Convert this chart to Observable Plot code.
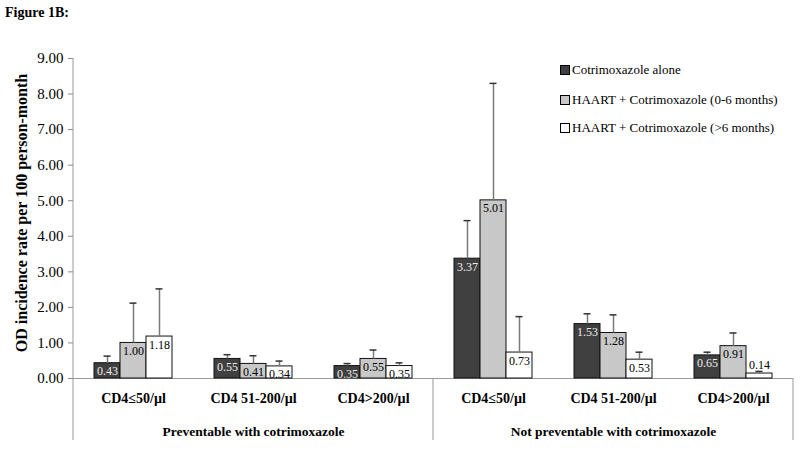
<!DOCTYPE html>
<html><head><meta charset="utf-8">
<script src="https://cdn.jsdelivr.net/npm/d3@7"></script>
<script src="https://cdn.jsdelivr.net/npm/@observablehq/plot@0.6"></script>
<style>
body{margin:0;background:#fff;font-family:"Liberation Serif","Times New Roman",serif;}
#wrap{position:relative;width:800px;height:458px;overflow:hidden;}
#chart{position:absolute;left:0;top:0;}
#title{position:absolute;left:5px;top:5px;font-weight:bold;font-size:14px;}
#legend{position:absolute;left:560px;top:62px;font-size:13px;}
.lrow{position:absolute;left:0;white-space:nowrap;height:16px;line-height:16px;}
.sw{display:inline-block;width:10px;height:10px;border:1px solid #000;margin-right:2px;vertical-align:-1px;box-sizing:border-box;}
</style></head><body>
<div id="wrap"><div id="chart"></div><div id="title">Figure 1B:</div><div id="legend"></div></div>
<script>
const sections = ["Preventable with cotrimoxazole", "Not preventable with cotrimoxazole"];
const categories = ["CD4≤50/µl", "CD4 51-200/µl", "CD4>200/µl"];
const series = ["Cotrimoxazole alone", "HAART + Cotrimoxazole (0-6 months)", "HAART + Cotrimoxazole (>6 months)"];
const seriesColors = ["#404040", "#c8c8c8", "#ffffff"];
// values by series, ordered: section 1 (3 categories), section 2 (3 categories)
const rateAlone  = [0.43, 0.55, 0.35, 3.37, 1.53, 0.65];
const rateEarly  = [1.00, 0.41, 0.55, 5.01, 1.28, 0.91];
const rateLate   = [1.18, 0.34, 0.35, 0.73, 0.53, 0.14];
const upperAlone = [0.63, 0.67, 0.42, 4.44, 1.82, 0.74];
const upperEarly = [2.12, 0.64, 0.80, 8.30, 1.79, 1.28];
const upperLate  = [2.52, 0.49, 0.44, 1.74, 0.74, 0.20];
const yTicks = [0, 1, 2, 3, 4, 5, 6, 7, 8, 9];
const yLabel = "OD incidence rate per 100 person-month";

const keys = [];
sections.forEach(s => categories.forEach(c => keys.push(s + "|" + c)));
const rates = [rateAlone, rateEarly, rateLate];
const uppers = [upperAlone, upperEarly, upperLate];
const data = [];
keys.forEach((k, i) => series.forEach((s, j) => data.push({key: k, series: s, si: j, value: rates[j][i], upper: uppers[j][i]})));
const sectionLabels = sections.map((s, i) => ({key: keys[i * 3 + 1], label: s}));

const fnt = "Liberation Serif, Times New Roman, serif";
const plot = Plot.plot({
  width: 800, height: 458,
  marginTop: 58, marginBottom: 80, marginLeft: 72, marginRight: 7,
  style: {fontFamily: fnt, fontSize: "12px", color: "#000", background: "transparent"},
  fx: {domain: keys, padding: 0, label: null, axis: null},
  x: {domain: series, paddingInner: 0, paddingOuter: 0.73, axis: null},
  y: {domain: [0, 9], axis: null},
  color: {domain: series, range: seriesColors},
  marks: [
    Plot.axisY({ticks: yTicks, tickFormat: d3.format(".2f"), tickSize: 5, tickPadding: 5, label: null, stroke: "#888", fontSize: 15}),
    Plot.axisFx({anchor: "bottom", tickSize: 0, tickPadding: 15, tickFormat: k => k.split("|")[1], label: null, fontSize: 14, fontWeight: "bold"}),
    Plot.ruleY([0], {stroke: "#999"}),
    Plot.barY(data, {fx: "key", x: "series", y: "value", fill: "series", stroke: "#111", strokeWidth: 1}),
    Plot.ruleX(data, {fx: "key", x: "series", y1: "value", y2: "upper", stroke: "#7a7a7a", strokeWidth: 1.5}),
    Plot.tickY(data, {fx: "key", x: "series", y: "upper", stroke: "#333", strokeWidth: 1.5, insetLeft: 9.5, insetRight: 9.5}),
    Plot.text(data, {filter: d => d.value >= 0.2 && d.si === 0, fx: "key", x: "series", y: "value", text: d => d.value.toFixed(2), lineAnchor: "top", dy: 3.5, fill: "#eeeeee", fontSize: 12}),
    Plot.text(data, {filter: d => d.value >= 0.2 && d.si !== 0, fx: "key", x: "series", y: "value", text: d => d.value.toFixed(2), lineAnchor: "top", dy: 3.5, fill: "#000", fontSize: 12}),
    Plot.text(data, {filter: d => d.value < 0.2, fx: "key", x: "series", y: "value", text: d => d.value.toFixed(2), lineAnchor: "bottom", dy: -5, fill: "#000", fontSize: 12}),
    Plot.text(sectionLabels, {fx: "key", text: "label", frameAnchor: "bottom", dy: 57, fontWeight: "bold", fontSize: 13.5, fill: "#000"})
  ]
});
document.getElementById("chart").appendChild(plot);

// frame lines drawn from the library's scales
const svg = d3.select(plot);
const fx = plot.scale("fx"), y = plot.scale("y");
const y0 = y.apply(0), yTop = y.apply(9), yBottom = 440;
const left = fx.apply(keys[0]);
const mid = fx.apply(keys[3]);
const right = fx.apply(keys[5]) + fx.bandwidth;
const g = svg.append("g").attr("stroke", "#999").attr("stroke-width", 1);
g.append("line").attr("x1", left).attr("x2", left).attr("y1", yTop).attr("y2", yBottom);
g.append("line").attr("x1", mid).attr("x2", mid).attr("y1", y0).attr("y2", yBottom);
g.append("line").attr("x1", right).attr("x2", right).attr("y1", y0).attr("y2", yBottom);
// y axis label
svg.append("text")
  .attr("transform", `translate(27,${(yTop + y0) / 2 - 5}) rotate(-90)`)
  .attr("text-anchor", "middle").attr("font-weight", "bold").attr("font-size", 16)
  .attr("font-family", fnt).text(yLabel);

// legend
const legend = document.getElementById("legend");
const legendTops = [0, 30, 58];
series.forEach((s, i) => {
  const row = document.createElement("div");
  row.className = "lrow";
  row.style.top = legendTops[i] + "px";
  row.innerHTML = `<span class="sw" style="background:${seriesColors[i]}"></span>`;
  row.appendChild(document.createTextNode(s));
  legend.appendChild(row);
});
</script>
</body></html>
